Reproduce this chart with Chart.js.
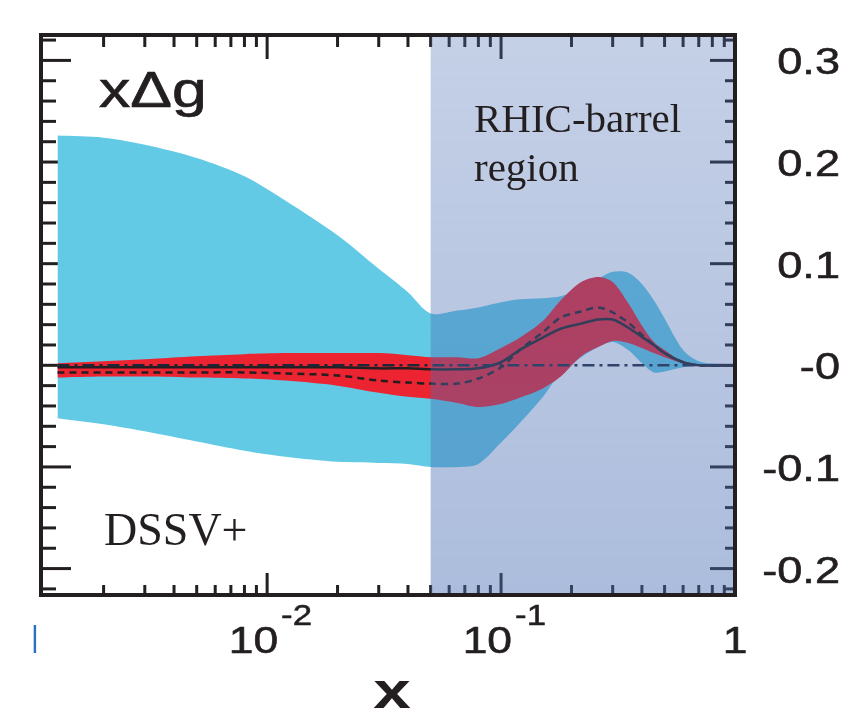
<!DOCTYPE html>
<html>
<head>
<meta charset="utf-8">
<script src="https://cdn.jsdelivr.net/npm/chart.js@4/dist/chart.umd.min.js"></script>
<style>
  html, body { margin: 0; padding: 0; background: #fff; }
  #wrap { width: 850px; height: 710px; position: relative; }
</style>
</head>
<body>
<div id="wrap"><canvas id="chart"></canvas></div>
<script>
// ─── data ─────────────────────────────────────────────
const xVals = [0.00127, 0.002, 0.003, 0.005, 0.008, 0.012, 0.02, 0.03, 0.04, 0.05,
  0.065, 0.08, 0.1, 0.12, 0.15, 0.18, 0.22, 0.26, 0.3, 0.35, 0.4, 0.45, 0.5, 0.6, 0.7, 0.85, 1.0];

// wide (cyan) uncertainty band
const cyanUpper = [0.226, 0.224, 0.217, 0.204, 0.186, 0.162, 0.128, 0.095, 0.072, 0.051,
  0.054, 0.057, 0.062, 0.065, 0.066, 0.068, 0.075, 0.085, 0.092, 0.091, 0.080, 0.064, 0.046, 0.015, 0.004, 0.001, 0];
const cyanLower = [-0.052, -0.058, -0.065, -0.075, -0.084, -0.090, -0.095, -0.096, -0.097, -0.100,
  -0.100, -0.097, -0.076, -0.057, -0.032, -0.007, 0.008, 0.018, 0.023, 0.015, 0.002, -0.007, -0.006, -0.002, 0, 0, 0];

// DSSV+ (red) band
const redUpper = [0.002, 0.004, 0.006, 0.009, 0.011, 0.012, 0.012, 0.012, 0.010, 0.008,
  0.008, 0.007, 0.017, 0.027, 0.043, 0.064, 0.082, 0.087, 0.082, 0.061, 0.039, 0.023, 0.015, 0.003, 0, 0, 0];
const redLower = [-0.012, -0.011, -0.011, -0.012, -0.013, -0.015, -0.020, -0.027, -0.031, -0.033,
  -0.037, -0.041, -0.038, -0.032, -0.023, -0.011, 0.009, 0.018, 0.024, 0.022, 0.017, 0.012, 0.008, 0.002, 0, 0, 0];

// central curves
const solidLine = [-0.002, -0.002, -0.002, -0.002, -0.002, -0.002, -0.002, -0.003, -0.003, -0.004,
  -0.004, -0.003, 0.003, 0.015, 0.027, 0.036, 0.041, 0.045, 0.045, 0.037, 0.028, 0.020, 0.012, 0.003, 0, 0, 0];
const dashedLine = [-0.007, -0.007, -0.007, -0.007, -0.007, -0.008, -0.010, -0.015, -0.017, -0.018,
  -0.018, -0.013, -0.002, 0.015, 0.032, 0.047, 0.053, 0.057, 0.052, 0.042, 0.030, 0.020, 0.012, 0.003, 0, 0, 0];

const zeroX = [0.00127, 1.0];
const zeroY = [0, 0];

// axis labels
const yLabelVals = [0.3, 0.2, 0.1, 0, -0.1, -0.2];
const yLabelText = ["0.3", "0.2", "0.1", "-0", "-0.1", "-0.2"];
const xLabelVals = [0.01, 0.1, 1];
const xLabelBase = ["10", "10", "1"];
const xLabelSup  = ["-2", "-1", ""];

const regionStart = 0.05;   // RHIC-barrel region
const xMin = 0.00108, xMax = 1;
const yMin = -0.226, yMax = 0.325;

// ─── helpers ──────────────────────────────────────────
const INK = "#231F20";
const pts = (xs, ys) => xs.map((x, i) => ({ x, y: ys[i] }));

const yTicks = [];
for (let k = -11; k <= 16; k++) yTicks.push(k * 0.02);
const xTicks = [];
[0.001, 0.01, 0.1].forEach(d => { for (let m = 1; m <= 9; m++) xTicks.push(d * m); });
xTicks.push(1);

function seg(ctx, x1, y1, x2, y2) {
  ctx.beginPath(); ctx.moveTo(x1, y1); ctx.lineTo(x2, y2); ctx.stroke();
}

// horizontally stretched text, slightly emboldened like the source figure
function stretchText(ctx, txt, x, y, sx, align, heavy) {
  ctx.save();
  ctx.translate(x, y);
  ctx.scale(sx, 1);
  ctx.textAlign = align;
  ctx.fillText(txt, 0, 0);
  if (heavy) {
    ctx.strokeStyle = ctx.fillStyle;
    ctx.lineWidth = heavy;
    ctx.strokeText(txt, 0, 0);
  }
  ctx.restore();
}

// ─── decorations ──────────────────────────────────────
const tickPlugin = {
  id: "inTicks",
  beforeDatasetsDraw(chart) {
    const { ctx, chartArea: a, scales: { x, y } } = chart;
    ctx.save();
    ctx.strokeStyle = INK;
    ctx.lineWidth = 3;
    yTicks.forEach(v => {
      const py = y.getPixelForValue(v);
      if (py < a.top || py > a.bottom) return;
      const major = Math.abs(v * 10 - Math.round(v * 10)) < 1e-6;
      seg(ctx, a.left, py, a.left + (major ? 30 : 15), py);
      seg(ctx, a.right, py, a.right - (major ? 25 : 10), py);
    });
    xTicks.forEach(v => {
      if (v < xMin || v > xMax) return;
      const px = x.getPixelForValue(v);
      const major = Math.abs(Math.log10(v) - Math.round(Math.log10(v))) < 1e-6;
      seg(ctx, px, a.top, px, a.top + (major ? 24 : 12));
      seg(ctx, px, a.bottom, px, a.bottom - (major ? 22 : 10));
    });
    ctx.restore();
  },
  afterDatasetsDraw(chart) {
    const { ctx, chartArea: a, scales: { x, y } } = chart;
    ctx.save();
    // shaded region
    const x0 = x.getPixelForValue(regionStart);
    const g = ctx.createLinearGradient(0, a.top, 0, a.bottom);
    g.addColorStop(0, "rgba(74,110,179,0.32)");
    g.addColorStop(1, "rgba(74,110,179,0.46)");
    ctx.fillStyle = g;
    ctx.fillRect(x0, a.top, a.right - x0, a.bottom - a.top);

    // frame
    ctx.strokeStyle = INK;
    ctx.lineWidth = 4;
    ctx.strokeRect(a.left, a.top, a.right - a.left, a.bottom - a.top);

    ctx.fillStyle = INK;
    ctx.textBaseline = "alphabetic";

    // y labels (right side)
    ctx.font = "37px 'Liberation Sans'";
    yLabelVals.forEach((v, i) => {
      stretchText(ctx, yLabelText[i], 840, y.getPixelForValue(v) + 14, 1.22, "right", 0.6);
    });

    // x labels with exponents
    xLabelVals.forEach((v, i) => {
      const px = x.getPixelForValue(v);
      if (xLabelSup[i]) {
        ctx.font = "37px 'Liberation Sans'";
        stretchText(ctx, xLabelBase[i], px + 11, 653, 1.2, "right", 0.6);
        ctx.font = "29px 'Liberation Sans'";
        stretchText(ctx, xLabelSup[i], px + 14, 625, 1.2, "left", 0.5);
      } else {
        ctx.font = "37px 'Liberation Sans'";
        stretchText(ctx, xLabelBase[i], px, 653, 1.2, "center", 0.6);
      }
    });
    ctx.fillStyle = "#2B6FC2";
    ctx.font = "30px 'Liberation Sans'";
    ctx.fillText("|", 31, 647);

    // axis title
    ctx.fillStyle = INK;
    ctx.font = "bold 50px 'Liberation Sans'";
    stretchText(ctx, "x", (a.left + a.right) / 2 + 4, 708, 1.35, "center", 0);

    // annotations
    ctx.font = "50px 'Liberation Sans'";
    stretchText(ctx, "xΔg", 99, 107, 1.25, "left", 0.7);
    ctx.textAlign = "left";
    ctx.font = "41px 'Liberation Serif'";
    ctx.fillText("RHIC-barrel", 474, 132);
    ctx.fillText("region", 474, 181);
    ctx.font = "46px 'Liberation Serif'";
    ctx.fillText("DSSV+", 104, 545);
    ctx.restore();
  }
};

// ─── chart ────────────────────────────────────────────
const bandLine = { borderWidth: 0, pointRadius: 0, tension: 0.3 };

new Chart(document.getElementById("chart"), {
  type: "line",
  data: {
    datasets: [
      { ...bandLine, data: pts(xVals, cyanLower), fill: false, order: 6, borderColor: "rgba(0,0,0,0)" },
      { ...bandLine, data: pts(xVals, cyanUpper), fill: "-1", order: 5, borderColor: "rgba(0,0,0,0)",
        backgroundColor: "#62CAE5" },
      { ...bandLine, data: pts(xVals, redLower), fill: false, order: 4, borderColor: "rgba(0,0,0,0)" },
      { ...bandLine, data: pts(xVals, redUpper), fill: "-1", order: 3, borderColor: "rgba(0,0,0,0)",
        backgroundColor: "#EC2330" },
      { data: pts(xVals, dashedLine), fill: false, order: 2, borderColor: "#231F20", borderWidth: 2.5,
        borderDash: [7, 5], pointRadius: 0, tension: 0.3 },
      { data: pts(xVals, solidLine), fill: false, order: 1, borderColor: "#231F20", borderWidth: 2.5,
        pointRadius: 0, tension: 0.3 },
      { data: pts(zeroX, zeroY), fill: false, order: 0, borderColor: "#1E2638", borderWidth: 2.5,
        borderDash: [12, 5, 3, 5], pointRadius: 0 }
    ]
  },
  options: {
    responsive: true,
    maintainAspectRatio: false,
    animation: false,
    layout: { padding: { left: 41, right: 115, top: 35, bottom: 115 } },
    plugins: { legend: { display: false }, tooltip: { enabled: false } },
    scales: {
      x: { type: "logarithmic", min: xMin, max: xMax, display: false },
      y: { type: "linear", min: yMin, max: yMax, display: false }
    }
  },
  plugins: [tickPlugin]
});
</script>
</body>
</html>
